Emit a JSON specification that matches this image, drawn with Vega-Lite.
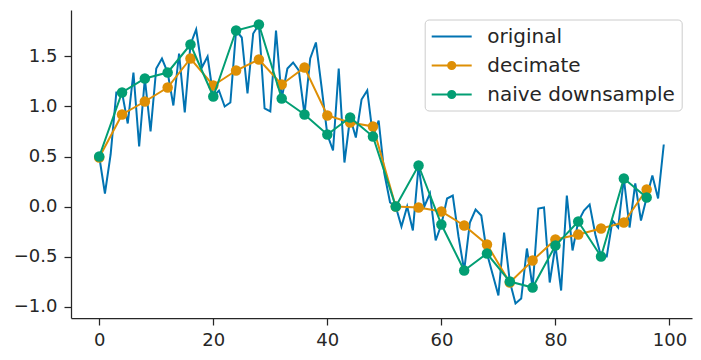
{
  "$schema": "https://vega.github.io/schema/vega-lite/v6.json",
  "width": 621,
  "height": 308,
  "autosize": {"type": "none"},
  "padding": {"left": 71, "top": 10, "right": 9, "bottom": 42},
  "background": "white",
  "config": {
    "view": {"stroke": null},
    "font": "DejaVu Sans",
    "axis": {
      "domainColor": "#262626", "domainWidth": 1.25,
      "tickColor": "#262626", "tickWidth": 1.25, "tickSize": 7,
      "labelFont": "DejaVu Sans", "labelFontSize": 18, "labelColor": "#262626",
      "grid": false, "title": null
    },
    "legend": {
      "orient": "none", "legendX": 353.7, "legendY": 9.5, "title": null,
      "labelFont": "DejaVu Sans", "labelFontSize": 20, "labelColor": "#262626", "labelLimit": 400,
      "padding": 6, "rowPadding": 8, "labelOffset": 24.5, "symbolSize": 400, "symbolOffset": 10,
      "fillColor": "rgba(255,255,255,0.8)", "strokeColor": "#cccccc", "cornerRadius": 4,
      "symbolStrokeWidth": 2, "symbolOpacity": 1
    }
  },
  "datasets": {
    "d": [
      {"x":0,"y":0.50,"series":"original"},{"x":1,"y":0.13,"series":"original"},{"x":2,"y":0.52,"series":"original"},{"x":3,"y":1.14,"series":"original"},{"x":4,"y":1.14,"series":"original"},
      {"x":5,"y":0.83,"series":"original"},{"x":6,"y":1.34,"series":"original"},{"x":7,"y":0.60,"series":"original"},{"x":8,"y":1.28,"series":"original"},{"x":9,"y":0.75,"series":"original"},
      {"x":10,"y":1.38,"series":"original"},{"x":11,"y":1.48,"series":"original"},{"x":12,"y":1.34,"series":"original"},{"x":13,"y":1.01,"series":"original"},{"x":14,"y":1.53,"series":"original"},
      {"x":15,"y":0.94,"series":"original"},{"x":16,"y":1.62,"series":"original"},{"x":17,"y":1.77,"series":"original"},{"x":18,"y":1.39,"series":"original"},{"x":19,"y":1.50,"series":"original"},
      {"x":20,"y":1.10,"series":"original"},{"x":21,"y":1.16,"series":"original"},{"x":22,"y":1.00,"series":"original"},{"x":23,"y":1.04,"series":"original"},{"x":24,"y":1.76,"series":"original"},
      {"x":25,"y":1.69,"series":"original"},{"x":26,"y":1.13,"series":"original"},{"x":27,"y":1.73,"series":"original"},{"x":28,"y":1.82,"series":"original"},{"x":29,"y":0.98,"series":"original"},
      {"x":30,"y":0.95,"series":"original"},{"x":31,"y":1.76,"series":"original"},{"x":32,"y":1.08,"series":"original"},{"x":33,"y":1.38,"series":"original"},{"x":34,"y":1.44,"series":"original"},
      {"x":35,"y":1.36,"series":"original"},{"x":36,"y":0.92,"series":"original"},{"x":37,"y":1.48,"series":"original"},{"x":38,"y":1.64,"series":"original"},{"x":39,"y":1.19,"series":"original"},
      {"x":40,"y":0.72,"series":"original"},{"x":41,"y":0.56,"series":"original"},{"x":42,"y":1.38,"series":"original"},{"x":43,"y":0.44,"series":"original"},{"x":44,"y":0.89,"series":"original"},
      {"x":45,"y":0.69,"series":"original"},{"x":46,"y":1.07,"series":"original"},{"x":47,"y":1.16,"series":"original"},{"x":48,"y":0.70,"series":"original"},{"x":49,"y":0.86,"series":"original"},
      {"x":50,"y":0.33,"series":"original"},{"x":51,"y":0.04,"series":"original"},{"x":52,"y":0.00,"series":"original"},{"x":53,"y":-0.20,"series":"original"},{"x":54,"y":0.00,"series":"original"},
      {"x":55,"y":-0.24,"series":"original"},{"x":56,"y":0.41,"series":"original"},{"x":57,"y":0.00,"series":"original"},{"x":58,"y":0.13,"series":"original"},{"x":59,"y":-0.34,"series":"original"},
      {"x":60,"y":-0.18,"series":"original"},{"x":61,"y":0.08,"series":"original"},{"x":62,"y":0.11,"series":"original"},{"x":63,"y":-0.30,"series":"original"},{"x":64,"y":-0.64,"series":"original"},
      {"x":65,"y":-0.16,"series":"original"},{"x":66,"y":-0.03,"series":"original"},{"x":67,"y":-0.09,"series":"original"},{"x":68,"y":-0.47,"series":"original"},{"x":69,"y":-0.68,"series":"original"},
      {"x":70,"y":-0.89,"series":"original"},{"x":71,"y":-0.26,"series":"original"},{"x":72,"y":-0.75,"series":"original"},{"x":73,"y":-0.97,"series":"original"},{"x":74,"y":-0.92,"series":"original"},
      {"x":75,"y":-0.42,"series":"original"},{"x":76,"y":-0.81,"series":"original"},{"x":77,"y":-0.02,"series":"original"},{"x":78,"y":-0.01,"series":"original"},{"x":79,"y":-0.76,"series":"original"},
      {"x":80,"y":-0.39,"series":"original"},{"x":81,"y":-0.84,"series":"original"},{"x":82,"y":0.11,"series":"original"},{"x":83,"y":-0.44,"series":"original"},{"x":84,"y":-0.15,"series":"original"},
      {"x":85,"y":-0.04,"series":"original"},{"x":86,"y":0.02,"series":"original"},{"x":87,"y":-0.28,"series":"original"},{"x":88,"y":-0.50,"series":"original"},{"x":89,"y":-0.50,"series":"original"},
      {"x":90,"y":-0.14,"series":"original"},{"x":91,"y":-0.21,"series":"original"},{"x":92,"y":0.28,"series":"original"},{"x":93,"y":-0.21,"series":"original"},{"x":94,"y":0.23,"series":"original"},
      {"x":95,"y":-0.14,"series":"original"},{"x":96,"y":0.09,"series":"original"},{"x":97,"y":0.31,"series":"original"},{"x":98,"y":0.08,"series":"original"},{"x":99,"y":0.62,"series":"original"},
      {"x":0,"y":0.49,"series":"decimate"},{"x":4,"y":0.92,"series":"decimate"},{"x":8,"y":1.05,"series":"decimate"},{"x":12,"y":1.19,"series":"decimate"},{"x":16,"y":1.48,"series":"decimate"},
      {"x":20,"y":1.21,"series":"decimate"},{"x":24,"y":1.36,"series":"decimate"},{"x":28,"y":1.47,"series":"decimate"},{"x":32,"y":1.22,"series":"decimate"},{"x":36,"y":1.39,"series":"decimate"},
      {"x":40,"y":0.91,"series":"decimate"},{"x":44,"y":0.84,"series":"decimate"},{"x":48,"y":0.80,"series":"decimate"},{"x":52,"y":0.00,"series":"decimate"},{"x":56,"y":-0.01,"series":"decimate"},
      {"x":60,"y":-0.05,"series":"decimate"},{"x":64,"y":-0.19,"series":"decimate"},{"x":68,"y":-0.38,"series":"decimate"},{"x":72,"y":-0.76,"series":"decimate"},{"x":76,"y":-0.54,"series":"decimate"},
      {"x":80,"y":-0.33,"series":"decimate"},{"x":84,"y":-0.28,"series":"decimate"},{"x":88,"y":-0.22,"series":"decimate"},{"x":92,"y":-0.16,"series":"decimate"},{"x":96,"y":0.17,"series":"decimate"},
      {"x":0,"y":0.50,"series":"naive downsample"},{"x":4,"y":1.14,"series":"naive downsample"},{"x":8,"y":1.28,"series":"naive downsample"},{"x":12,"y":1.34,"series":"naive downsample"},{"x":16,"y":1.62,"series":"naive downsample"},
      {"x":20,"y":1.10,"series":"naive downsample"},{"x":24,"y":1.76,"series":"naive downsample"},{"x":28,"y":1.82,"series":"naive downsample"},{"x":32,"y":1.08,"series":"naive downsample"},{"x":36,"y":0.92,"series":"naive downsample"},
      {"x":40,"y":0.72,"series":"naive downsample"},{"x":44,"y":0.89,"series":"naive downsample"},{"x":48,"y":0.70,"series":"naive downsample"},{"x":52,"y":0.00,"series":"naive downsample"},{"x":56,"y":0.41,"series":"naive downsample"},
      {"x":60,"y":-0.18,"series":"naive downsample"},{"x":64,"y":-0.64,"series":"naive downsample"},{"x":68,"y":-0.47,"series":"naive downsample"},{"x":72,"y":-0.75,"series":"naive downsample"},{"x":76,"y":-0.81,"series":"naive downsample"},
      {"x":80,"y":-0.39,"series":"naive downsample"},{"x":84,"y":-0.15,"series":"naive downsample"},{"x":88,"y":-0.50,"series":"naive downsample"},{"x":92,"y":0.28,"series":"naive downsample"},{"x":96,"y":0.09,"series":"naive downsample"}
    ]
  },
  "data": {"name": "d"},
  "encoding": {
    "x": {"field": "x", "type": "quantitative",
      "scale": {"domain": [-4.95, 103.95], "nice": false, "zero": false},
      "axis": {"values": [0, 20, 40, 60, 80, 100], "format": "d", "labelPadding": 6}},
    "y": {"field": "y", "type": "quantitative",
      "scale": {"domain": [-1.115, 1.965], "nice": false, "zero": false},
      "axis": {"values": [-1, -0.5, 0, 0.5, 1, 1.5], "labelPadding": 7,
        "labelExpr": "datum.value < 0 ? '\u2212' + format(abs(datum.value), '.1f') : format(datum.value, '.1f')"}},
    "color": {"field": "series", "type": "nominal",
      "scale": {"domain": ["original", "decimate", "naive downsample"], "range": ["#0173b2", "#de8f05", "#029e73"]},
      "legend": {
        "encode": {"symbols": {"update": {
          "fill": {"scale": "color", "field": "value"},
          "stroke": {"scale": "color", "field": "value"},
          "opacity": {"value": 1},
          "strokeWidth": {"value": 2},
          "size": {"value": 400}
        }}}
      }}
  },
  "layer": [
    {"transform": [{"filter": "datum.series === 'original'"}], "mark": {"type": "line", "strokeWidth": 2}},
    {"transform": [{"filter": "datum.series === 'decimate'"}], "mark": {"type": "line", "strokeWidth": 2}},
    {"transform": [{"filter": "datum.series === 'decimate'"}], "mark": {"type": "point", "filled": true, "size": 110, "opacity": 1}},
    {"transform": [{"filter": "datum.series === 'naive downsample'"}], "mark": {"type": "line", "strokeWidth": 2}},
    {"transform": [{"filter": "datum.series === 'naive downsample'"}], "mark": {"type": "point", "filled": true, "size": 110, "opacity": 1}},
    {
      "mark": {"type": "point", "filled": true, "opacity": 0},
      "encoding": {
        "shape": {"field": "series", "type": "nominal",
          "scale": {"domain": ["original", "decimate", "naive downsample"],
            "range": ["M-2,0H2", "M-2,0H2M0.36,0A0.36,0.36,0,1,1,-0.36,0A0.36,0.36,0,1,1,0.36,0Z", "M-2,0H2M0.36,0A0.36,0.36,0,1,1,-0.36,0A0.36,0.36,0,1,1,0.36,0Z"]},
          "legend": {
            "encode": {"symbols": {"update": {
              "fill": {"scale": "color", "field": "value"},
              "stroke": {"scale": "color", "field": "value"},
              "opacity": {"value": 1},
              "strokeWidth": {"value": 2},
              "size": {"value": 400}
            }}}
          }}
      }
    }
  ]
}
